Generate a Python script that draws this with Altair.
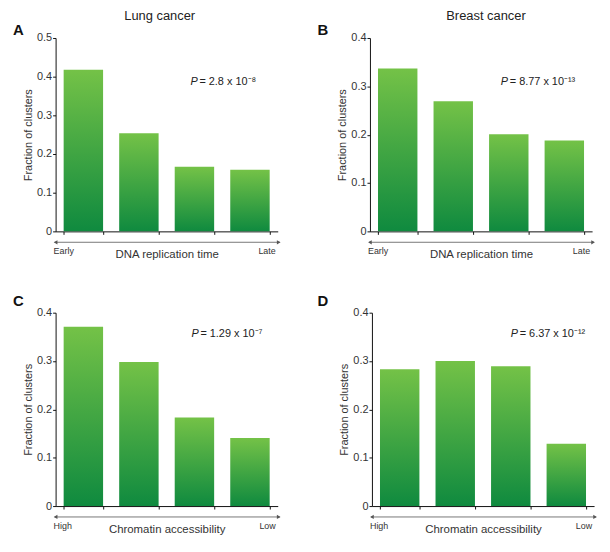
import altair as alt
import pandas as pd

# ---- data ----
bins = ["b1", "b2", "b3", "b4"]
lung_replication = [0.418, 0.254, 0.167, 0.159]
breast_replication = [0.337, 0.269, 0.201, 0.188]
lung_chromatin = [0.371, 0.298, 0.183, 0.141]
breast_chromatin = [0.283, 0.300, 0.289, 0.129]

yticks_05 = [0, 0.1, 0.2, 0.3, 0.4, 0.5]
yticks_04 = [0, 0.1, 0.2, 0.3, 0.4]

p_values = ["= 2.8 x 10\u207b\u2078", "= 8.77 x 10\u207b\u00b9\u00b3",
            "= 1.29 x 10\u207b\u2077", "= 6.37 x 10\u207b\u00b9\u00b2"]
panel_letters = ["A", "B", "C", "D"]
panel_titles = ["Lung cancer", "Breast cancer", None, None]
x_titles = ["DNA replication time", "DNA replication time",
            "Chromatin accessibility", "Chromatin accessibility"]
x_ends = [("Early", "Late"), ("Early", "Late"), ("High", "Low"), ("High", "Low")]

FONT = "Liberation Sans"
W, H = 224, 195

grad = alt.Gradient(
    gradient="linear",
    stops=[alt.GradientStop(color="#74c247", offset=0),
           alt.GradientStop(color="#0f8a3f", offset=1)],
    x1=0, x2=0, y1=0, y2=1,
)


def text_layer(txt, x, y, **kw):
    return alt.Chart(pd.DataFrame({"t": [txt]})).mark_text(
        font=FONT, **kw
    ).encode(x=alt.value(x), y=alt.value(y), text="t:N")


def panel(vals, ymax, yticks, title, title_dx, letter, l_dx, l_dy,
          ptxt, p_dx, p_dy, xtitle, lo, hi):
    df = pd.DataFrame({"bin": bins, "val": vals})
    bars = alt.Chart(df).mark_bar(color=grad).encode(
        x=alt.X("bin:N", sort=None,
                scale=alt.Scale(paddingInner=0.29, paddingOuter=0.145),
                axis=alt.Axis(labels=False, tickBand="extent", tickSize=3,
                              title=xtitle, titlePadding=14, titleFontSize=11.5,
                              titleFontWeight="normal", titleColor="#333")),
        y=alt.Y("val:Q", scale=alt.Scale(domain=[0, ymax], nice=False),
                axis=alt.Axis(values=yticks, format=".1~f", grid=False,
                              tickSize=3, labelPadding=1, labelFontSize=11,
                              labelColor="#333",
                              title="Fraction of clusters", titleFontSize=11,
                              titleFontWeight="normal", titleColor="#333",
                              titlePadding=3)),
    )
    layers = [bars]
    # arrow under axis
    arrow_df = pd.DataFrame({"a": [0]})
    layers.append(alt.Chart(arrow_df).mark_rule(color="#777", strokeWidth=1).encode(
        x=alt.value(-1), x2=alt.value(W + 2), y=alt.value(H + 11)))
    layers.append(alt.Chart(arrow_df).mark_point(shape="triangle-left", filled=True,
                                                 color="#555", size=18, opacity=1).encode(
        x=alt.value(0), y=alt.value(H + 11)))
    layers.append(alt.Chart(arrow_df).mark_point(shape="triangle-right", filled=True,
                                                 color="#555", size=18, opacity=1).encode(
        x=alt.value(W + 1), y=alt.value(H + 11)))
    layers.append(text_layer(lo, -2, H + 23, fontSize=9, align="left",
                             baseline="alphabetic", color="#333"))
    layers.append(text_layer(hi, W - 2, H + 23, fontSize=9, align="right",
                             baseline="alphabetic", color="#333"))
    # p value
    layers.append(text_layer("P", p_dx, p_dy, fontSize=11, fontStyle="italic",
                             align="left", baseline="alphabetic", color="#222"))
    layers.append(text_layer(ptxt, p_dx + 9, p_dy, fontSize=11, align="left",
                             baseline="alphabetic", color="#222"))
    # panel letter
    layers.append(text_layer(letter, l_dx, l_dy, fontSize=15, fontWeight="bold",
                             align="left", baseline="alphabetic", color="#111"))
    # panel title (above the plot area, as text)
    if title:
        layers.append(text_layer(title, W / 2 + title_dx, -18, fontSize=13,
                                 align="center", baseline="alphabetic", color="#222"))
    return alt.layer(*layers).properties(width=W, height=H)


A = panel(lung_replication, 0.5, yticks_05, panel_titles[0], -7, panel_letters[0], -43, -3,
          p_values[0], 136, 47, x_titles[0], *x_ends[0])
B = panel(breast_replication, 0.4, yticks_04, panel_titles[1], 5, panel_letters[1], -53, -3,
          p_values[1], 132, 47, x_titles[1], *x_ends[1])
C = panel(lung_chromatin, 0.4, yticks_04, panel_titles[2], 0, panel_letters[2], -43, -7,
          p_values[2], 137, 25, x_titles[2], *x_ends[2])
D = panel(breast_chromatin, 0.4, yticks_04, panel_titles[3], 0, panel_letters[3], -55, -7,
          p_values[3], 140, 25, x_titles[3], *x_ends[3])

chart = alt.vconcat(
    alt.hconcat(A, B, spacing=37),
    alt.hconcat(C, D, spacing=37),
    spacing=34,
).properties(
    padding={"left": 5, "top": 0, "right": 5, "bottom": 5}
).configure_view(stroke=None).configure_axis(
    labelFont=FONT, titleFont=FONT, domainColor="#111", tickColor="#111",
    domainWidth=1, tickWidth=1,
)

chart.save("out.html", embed_options={"renderer": "svg", "actions": False})
